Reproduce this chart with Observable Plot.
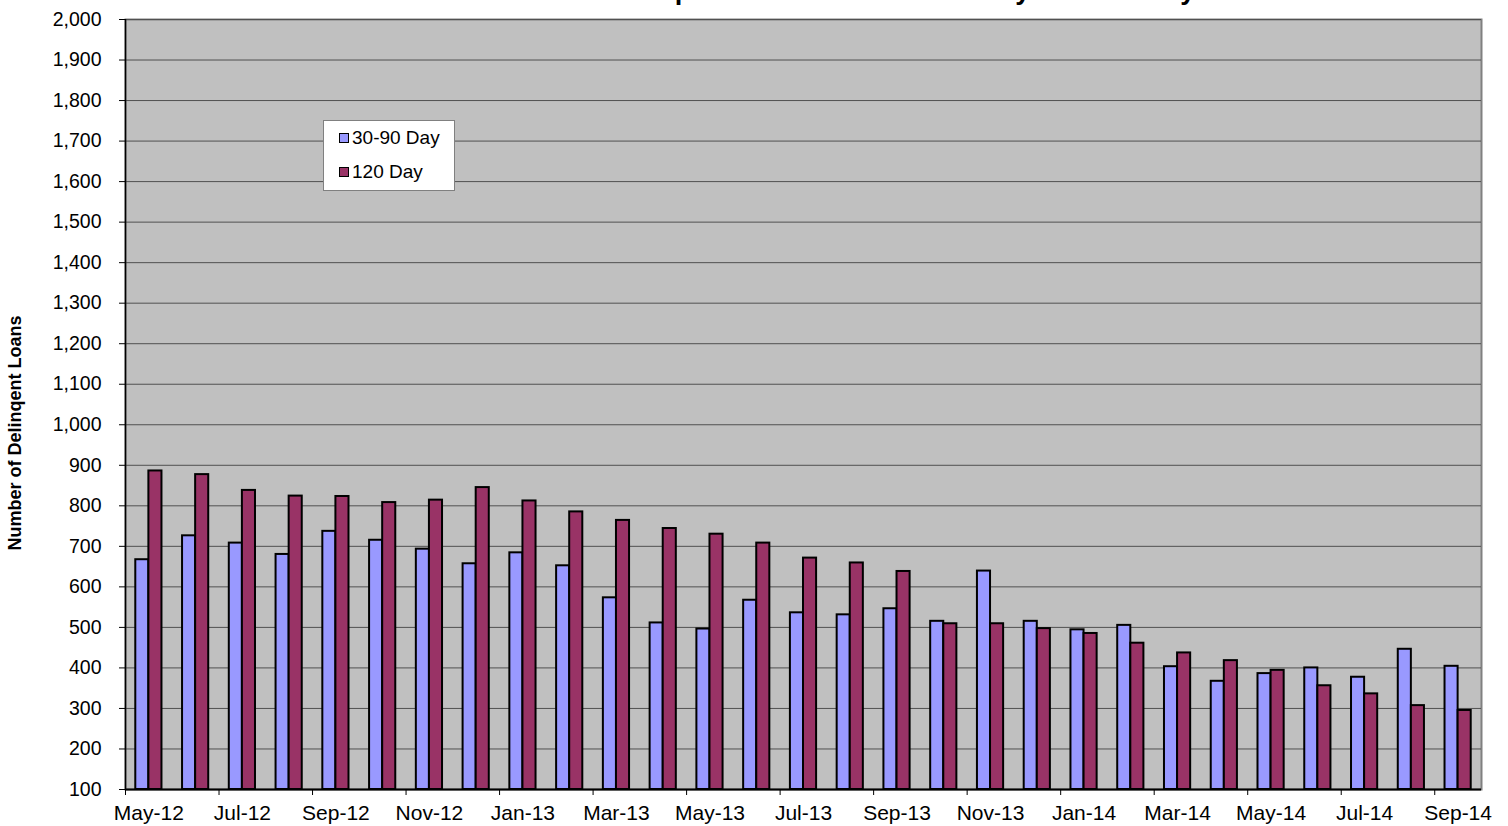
<!DOCTYPE html>
<html>
<head>
<meta charset="utf-8">
<script src="https://cdn.jsdelivr.net/npm/d3@7"></script>
<script src="https://cdn.jsdelivr.net/npm/@observablehq/plot@0.6"></script>
<style>
  body { margin: 0; background: white; font-family: Arial, "Liberation Sans", sans-serif; }
  #wrap { position: relative; width: 1508px; height: 826px; overflow: hidden; }
  #title { position: absolute; left: 0; width: 1514px; top: -23px; text-align: center; font-weight: bold; font-size: 27px; line-height: 27px; white-space: nowrap; }
  #ylab { position: absolute; left: 15px; top: 433px; transform: translate(-50%, -50%) rotate(-90deg); font-weight: bold; font-size: 18px; white-space: nowrap; }
  #legend { position: absolute; left: 323px; top: 120px; width: 130px; height: 69px; background: white; border: 1px solid #808080; }
  .item { position: absolute; left: 15px; font-size: 19px; line-height: 20px; white-space: nowrap; }
  .sw { display: inline-block; width: 8px; height: 8px; border: 1.5px solid black; margin-right: 3px; vertical-align: 1px; }
  #chart { position: absolute; left: 0; top: 0; }
</style>
</head>
<body>
<div id="wrap">
  <div id="chart"></div>
  <div id="title">CalHFA Conventional Delinquent Loan Count 30-90 Day and 120 Day</div>
  <div id="ylab">Number of Delinqent Loans</div>
  <div id="legend">
    <div class="item" style="top:7px"><span class="sw" style="background:#9999FF"></span>30-90 Day</div>
    <div class="item" style="top:41px"><span class="sw" style="background:#993366"></span>120 Day</div>
  </div>
</div>
<script>
const months = ["May-12","Jun-12","Jul-12","Aug-12","Sep-12","Oct-12","Nov-12","Dec-12",
  "Jan-13","Feb-13","Mar-13","Apr-13","May-13","Jun-13","Jul-13","Aug-13","Sep-13","Oct-13","Nov-13","Dec-13",
  "Jan-14","Feb-14","Mar-14","Apr-14","May-14","Jun-14","Jul-14","Aug-14","Sep-14"];
const day30_90 = [667,726,708,680,737,715,693,657,684,652,573,511,496,567,536,531,546,515,639,515,494,505,403,367,386,400,377,446,404];
const day120 = [886,877,838,824,823,808,814,845,812,785,764,744,730,708,671,659,638,509,509,497,485,461,437,418,394,356,336,307,295];
const yTicks = d3.range(100, 2001, 100);
const boundaryTicks = d3.range(0, 29, 2);
const labelTicks = d3.range(0, 29, 2).map(i => i + 0.5);

const rows30 = months.map((m, i) => ({i, month: m, v: day30_90[i]}));
const rows120 = months.map((m, i) => ({i, month: m, v: day120[i]}));

const chart = Plot.plot({
  width: 1508, height: 826,
  marginLeft: 125, marginRight: 27, marginTop: 19, marginBottom: 37,
  x: {domain: [0, 29]},
  y: {domain: [100, 2000]},
  style: {fontFamily: "Arial, 'Liberation Sans', sans-serif", fontSize: "19.5px", color: "black", background: "white"},
  marks: [
    Plot.frame({fill: "#C0C0C0", stroke: "#808080", strokeWidth: 2}),
    Plot.gridY({ticks: yTicks, stroke: "#505050", strokeOpacity: 1, strokeWidth: 1}),
    Plot.rect(rows30, {x1: d => d.i + 0.22, x2: d => d.i + 0.5, y1: 100, y2: "v", fill: "#9999FF", stroke: "black", strokeWidth: 2}),
    Plot.rect(rows120, {x1: d => d.i + 0.5, x2: d => d.i + 0.78, y1: 100, y2: "v", fill: "#993366", stroke: "black", strokeWidth: 2}),
    Plot.ruleX([0], {stroke: "black", strokeWidth: 1.5}),
    Plot.ruleY([100], {stroke: "black", strokeWidth: 2}),
    Plot.axisY({ticks: yTicks, tickSize: 6, tickPadding: 18, tickFormat: d3.format(","), label: null}),
    Plot.axisX({ticks: boundaryTicks, tickSize: 6, tickFormat: () => "", label: null}),
    Plot.axisX({ticks: labelTicks, tickSize: 0, tickPadding: 16, fontSize: 21, tickFormat: v => months[Math.round(v - 0.5)], label: null})
  ]
});
document.getElementById("chart").appendChild(chart);
</script>
</body>
</html>
